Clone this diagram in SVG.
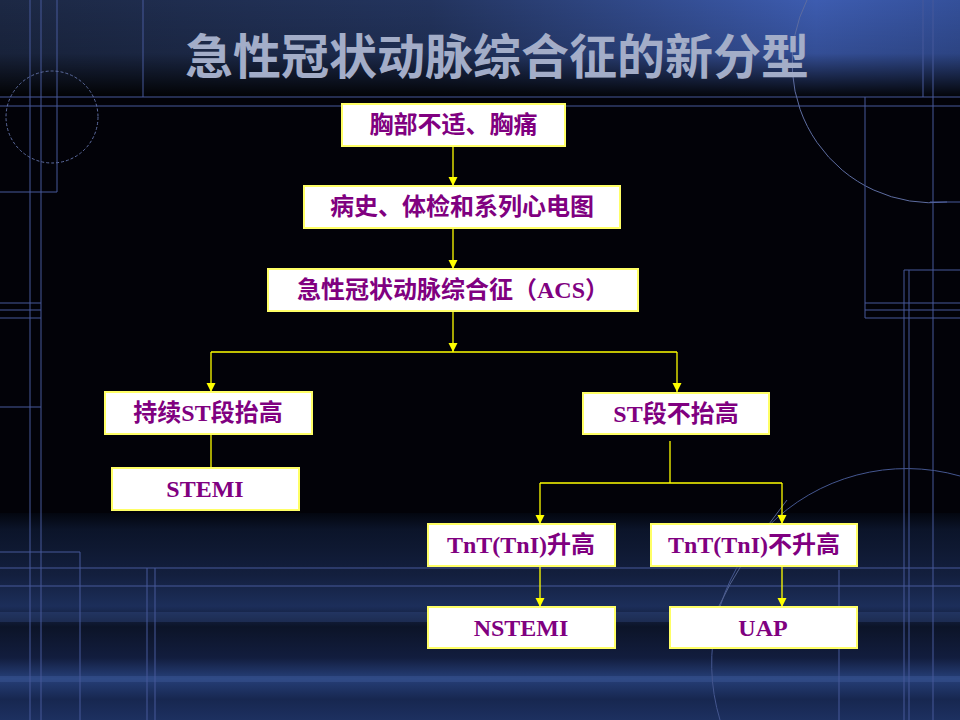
<svg xmlns="http://www.w3.org/2000/svg" width="960" height="720" viewBox="0 0 960 720">
<defs>
  <linearGradient id="topH" x1="0" y1="0" x2="1" y2="0">
    <stop offset="0" stop-color="#1c2844"/>
    <stop offset="0.45" stop-color="#23345e"/>
    <stop offset="0.85" stop-color="#3d5cb0"/>
    <stop offset="1" stop-color="#34509a"/>
  </linearGradient>
  <linearGradient id="topV" x1="0" y1="0" x2="0" y2="1">
    <stop offset="0" stop-color="#000" stop-opacity="0"/>
    <stop offset="0.55" stop-color="#000" stop-opacity="0.15"/>
    <stop offset="1" stop-color="#000" stop-opacity="0.95"/>
  </linearGradient>
  <linearGradient id="botV" x1="0" y1="0" x2="0" y2="1">
    <stop offset="0" stop-color="#03060f"/>
    <stop offset="0.08" stop-color="#0b1429"/>
    <stop offset="0.3" stop-color="#131f3e"/>
    <stop offset="0.45" stop-color="#1c2e5a"/>
    <stop offset="0.55" stop-color="#0c1428"/>
    <stop offset="0.7" stop-color="#121d3e"/>
    <stop offset="0.8" stop-color="#263f78"/>
    <stop offset="0.9" stop-color="#172750"/>
    <stop offset="1" stop-color="#1d3060"/>
  </linearGradient>
  <marker id="ah" markerUnits="userSpaceOnUse" markerWidth="9" markerHeight="10" refX="9" refY="4.5" orient="auto">
    <path d="M0,0 L9,4.5 L0,9 z" fill="#ffff00"/>
  </marker>
  <style>
    .bg { fill: none; stroke: #46589a; stroke-width: 1; }
    .bgf { fill: none; stroke: #5d6ca0; stroke-width: 1; stroke-dasharray: 3 2; }
    .box { fill: #ffffff; stroke: #ffff66; stroke-width: 2; }
    .lbl { font-family: "Liberation Serif", "Noto Sans CJK SC", serif; font-weight: bold; font-size: 24px; fill: #800080; text-anchor: middle; }
    .title { font-family: "Noto Sans CJK SC", "Noto Sans", sans-serif; font-weight: bold; font-size: 48px; fill: #a3adc8; text-anchor: middle; }
    .cn { fill: none; stroke: #ffff00; stroke-width: 1.3; }
  </style>
</defs>

<!-- background -->
<rect x="0" y="0" width="960" height="720" fill="#020208"/>
<rect x="0" y="0" width="960" height="97" fill="url(#topH)"/>
<rect x="0" y="0" width="960" height="97" fill="url(#topV)"/>
<rect x="0" y="513" width="960" height="207" fill="url(#botV)"/>
<rect x="0" y="612" width="960" height="10" fill="#3a5596" opacity="0.3"/>
<rect x="0" y="676" width="960" height="6" fill="#4a66aa" opacity="0.3"/>

<g id="bg-lines">
  <line class="bg" x1="0" y1="97" x2="960" y2="97"/>
  <line class="bg" x1="0" y1="106" x2="960" y2="106"/>
  <line class="bg" x1="30" y1="0" x2="30" y2="720"/>
  <line class="bg" x1="41" y1="0" x2="41" y2="720"/>
  <polyline class="bg" points="57,0 57,192 0,192"/>
  <line class="bg" x1="143" y1="0" x2="143" y2="97"/>
  <circle class="bgf" cx="52" cy="117" r="46"/>
  <line class="bg" x1="0" y1="303" x2="41" y2="303"/>
  <line class="bg" x1="0" y1="310" x2="41" y2="310"/>
  <line class="bg" x1="0" y1="318" x2="41" y2="318"/>
  <line class="bg" x1="0" y1="407" x2="41" y2="407"/>
  <polyline class="bg" points="0,552 80,552 80,720"/>
  <line class="bg" x1="0" y1="568" x2="960" y2="568"/>
  <line class="bg" x1="0" y1="586" x2="960" y2="586"/>
  <line class="bg" x1="147" y1="568" x2="147" y2="720"/>
  <line class="bg" x1="155" y1="568" x2="155" y2="720"/>
  <line class="bg" x1="923" y1="0" x2="923" y2="97"/>
  <line class="bg" x1="933" y1="0" x2="933" y2="720"/>
  <path class="bgf" d="M 807 0 A 140 140 0 0 0 947 202" style="stroke-dasharray:none"/>
  <line class="bg" x1="930" y1="202" x2="960" y2="202"/>
  <polyline class="bg" points="865,97 865,318 960,318"/>
  <line class="bg" x1="865" y1="303" x2="960" y2="303"/>
  <line class="bg" x1="865" y1="310" x2="960" y2="310"/>
  <polyline class="bg" points="904,720 904,270 960,270"/>
  <line class="bg" x1="909" y1="270" x2="909" y2="720"/>
  <line class="bg" x1="839" y1="570" x2="839" y2="720"/>
  <path class="bgf" d="M 960 476 A 195 195 0 0 0 720 720" style="stroke-dasharray:none;stroke:#44568f"/>
  <path d="M 787 500 Q 740 560 717 610" fill="none" stroke="#52628f" stroke-width="1"/>
</g>

<text class="title" x="497" y="74">急性冠状动脉综合征的新分型</text>

<g id="connectors">
  <line class="cn" x1="453" y1="146" x2="453" y2="186" marker-end="url(#ah)"/>
  <line class="cn" x1="453" y1="228" x2="453" y2="269" marker-end="url(#ah)"/>
  <line class="cn" x1="453" y1="311" x2="453" y2="352" marker-end="url(#ah)"/>
  <line class="cn" x1="211" y1="352" x2="677" y2="352"/>
  <line class="cn" x1="211" y1="352" x2="211" y2="392" marker-end="url(#ah)"/>
  <line class="cn" x1="677" y1="352" x2="677" y2="392" marker-end="url(#ah)"/>
  <line class="cn" x1="211" y1="434" x2="211" y2="468"/>
  <line class="cn" x1="670" y1="441" x2="670" y2="483"/>
  <line class="cn" x1="540" y1="483" x2="782" y2="483"/>
  <line class="cn" x1="540" y1="483" x2="540" y2="524" marker-end="url(#ah)"/>
  <line class="cn" x1="782" y1="483" x2="782" y2="524" marker-end="url(#ah)"/>
  <line class="cn" x1="540" y1="566" x2="540" y2="607" marker-end="url(#ah)"/>
  <line class="cn" x1="782" y1="566" x2="782" y2="607" marker-end="url(#ah)"/>
</g>

<g id="n1"><rect class="box" x="342" y="104" width="223" height="42"/><text class="lbl" x="453.5" y="133">胸部不适、胸痛</text></g>
<g id="n2"><rect class="box" x="304" y="186" width="316" height="42"/><text class="lbl" x="462" y="215">病史、体检和系列心电图</text></g>
<g id="n3"><rect class="box" x="268" y="269" width="370" height="42"/><text class="lbl" x="453" y="298">急性冠状动脉综合征（ACS）</text></g>
<g id="n4"><rect class="box" x="105" y="392" width="207" height="42"/><text class="lbl" x="208" y="421">持续ST段抬高</text></g>
<g id="n5"><rect class="box" x="583" y="393" width="186" height="41"/><text class="lbl" x="676" y="422">ST段不抬高</text></g>
<g id="n6"><rect class="box" x="112" y="468" width="187" height="42"/><text class="lbl" x="205" y="497">STEMI</text></g>
<g id="n7"><rect class="box" x="428" y="524" width="187" height="42"/><text class="lbl" x="521" y="553">TnT(TnI)升高</text></g>
<g id="n8"><rect class="box" x="651" y="524" width="206" height="42"/><text class="lbl" x="754" y="553">TnT(TnI)不升高</text></g>
<g id="n9"><rect class="box" x="428" y="607" width="187" height="41"/><text class="lbl" x="521" y="636">NSTEMI</text></g>
<g id="n10"><rect class="box" x="670" y="607" width="187" height="41"/><text class="lbl" x="763" y="636">UAP</text></g>
</svg>
